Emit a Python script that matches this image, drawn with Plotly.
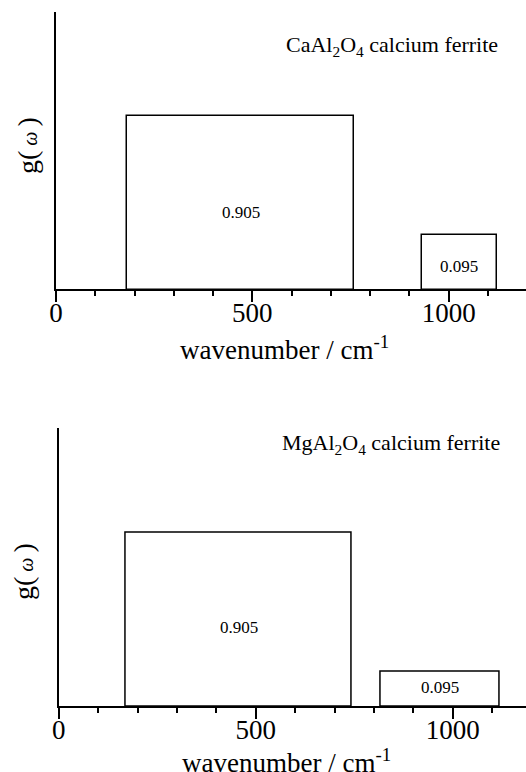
import plotly.graph_objects as go

# ---------------- data ----------------
titles = ["CaAl<sub>2</sub>O<sub>4</sub> calcium ferrite",
          "MgAl<sub>2</sub>O<sub>4</sub> calcium ferrite"]
band_lo_ca = [181, 931]
band_hi_ca = [760, 1122]
frac_ca = [0.905, 0.095]
band_lo_mg = [169, 818]
band_hi_mg = [744, 1118]
frac_mg = [0.905, 0.095]
tick_vals = [0, 500, 1000]
tick_text = ["0", "500", "1000"]
x_title = "wavenumber / cm<sup>-1</sup>"
y_title = "g(<span style='font-size:20px'> <i>ω</i> </span>)"

panels = [(band_lo_ca, band_hi_ca, frac_ca), (band_lo_mg, band_hi_mg, frac_mg)]

# ---------------- layout geometry (pixels) ----------------
W, H = 526, 772
FONT = "Liberation Serif"
geom = [
    dict(x0=56.0, ytop=12.0, ybot=289.0, xmax=1197, ymax=0.0025,
         label_k=[0.447, 0.42], title_y=46, xt_y=348, yt_x=27, yt_y=146),
    dict(x0=58.7, ytop=427.7, ybot=706.0, xmax=1186, ymax=0.00253,
         label_k=[0.458, 0.55], title_y=444, xt_y=761, yt_x=23, yt_y=572),
]

def py(p):
    return (H - p) / H

fig = go.Figure()
annotations = []
for i, ((lo, hi, fr), g) in enumerate(zip(panels, geom)):
    xa = "x" if i == 0 else "x2"
    ya = "y" if i == 0 else "y2"
    widths = [h - l for l, h in zip(lo, hi)]
    centers = [(l + h) / 2 for l, h in zip(lo, hi)]
    dens = [f / w for f, w in zip(fr, widths)]
    fig.add_trace(go.Bar(
        x=centers, y=dens, width=widths, xaxis=xa, yaxis=ya,
        marker=dict(color="white", line=dict(color="black", width=1.5)),
        showlegend=False, hoverinfo="skip"))
    for c, d, f, k in zip(centers, dens, fr, g["label_k"]):
        annotations.append(dict(x=c, y=d * k, xref=xa, yref=ya, text=f"{f:.3f}",
                                showarrow=False, font=dict(family=FONT, size=17, color="black"),
                                xanchor="center", yanchor="middle"))
    annotations.append(dict(x=500 / W + (0 if i == 0 else 1.5 / W), y=py(g["title_y"]),
                            xref="paper", yref="paper", text=titles[i], showarrow=False,
                            font=dict(family=FONT, size=22, color="black"),
                            xanchor="right", yanchor="middle"))
    annotations.append(dict(x=(g["x0"] + 228) / W, y=py(g["xt_y"]), xref="paper", yref="paper",
                            text=x_title, showarrow=False,
                            font=dict(family=FONT, size=27, color="black"),
                            xanchor="center", yanchor="middle"))
    annotations.append(dict(x=g["yt_x"] / W, y=py(g["yt_y"]), xref="paper", yref="paper",
                            text=y_title, showarrow=False, textangle=-90,
                            font=dict(family=FONT, size=28, color="black"),
                            xanchor="center", yanchor="middle"))

def xaxis(g, anchor):
    return dict(domain=[g["x0"] / W, 1], range=[0, g["xmax"]], anchor=anchor,
                showline=True, linecolor="black", linewidth=1.5, mirror=False,
                showgrid=False, zeroline=False, ticks="outside", ticklen=11,
                tickwidth=1.5, tickcolor="black", tickvals=tick_vals, ticktext=tick_text,
                tickfont=dict(family=FONT, size=27, color="black"),
                ticklabelstandoff=-12,
                minor=dict(dtick=100, tick0=0, ticks="outside", ticklen=5, tickwidth=1.5,
                           tickcolor="black", showgrid=False),
                automargin=False, fixedrange=True)

def yaxis(g, anchor):
    return dict(domain=[py(g["ybot"]), py(g["ytop"])], range=[g["ymax"] * 0.003, g["ymax"]],
                anchor=anchor, showline=True, linecolor="black", linewidth=1.5, showgrid=False,
                zeroline=False, showticklabels=False, ticks="", automargin=False,
                fixedrange=True)

fig.update_layout(
    width=W, height=H, margin=dict(l=0, r=0, t=0, b=0),
    paper_bgcolor="white", plot_bgcolor="white", bargap=0,
    xaxis=xaxis(geom[0], "y"), yaxis=yaxis(geom[0], "x"),
    xaxis2=xaxis(geom[1], "y2"), yaxis2=yaxis(geom[1], "x2"),
    annotations=annotations, font=dict(family=FONT, color="black"),
)
fig.write_html("out.html")
